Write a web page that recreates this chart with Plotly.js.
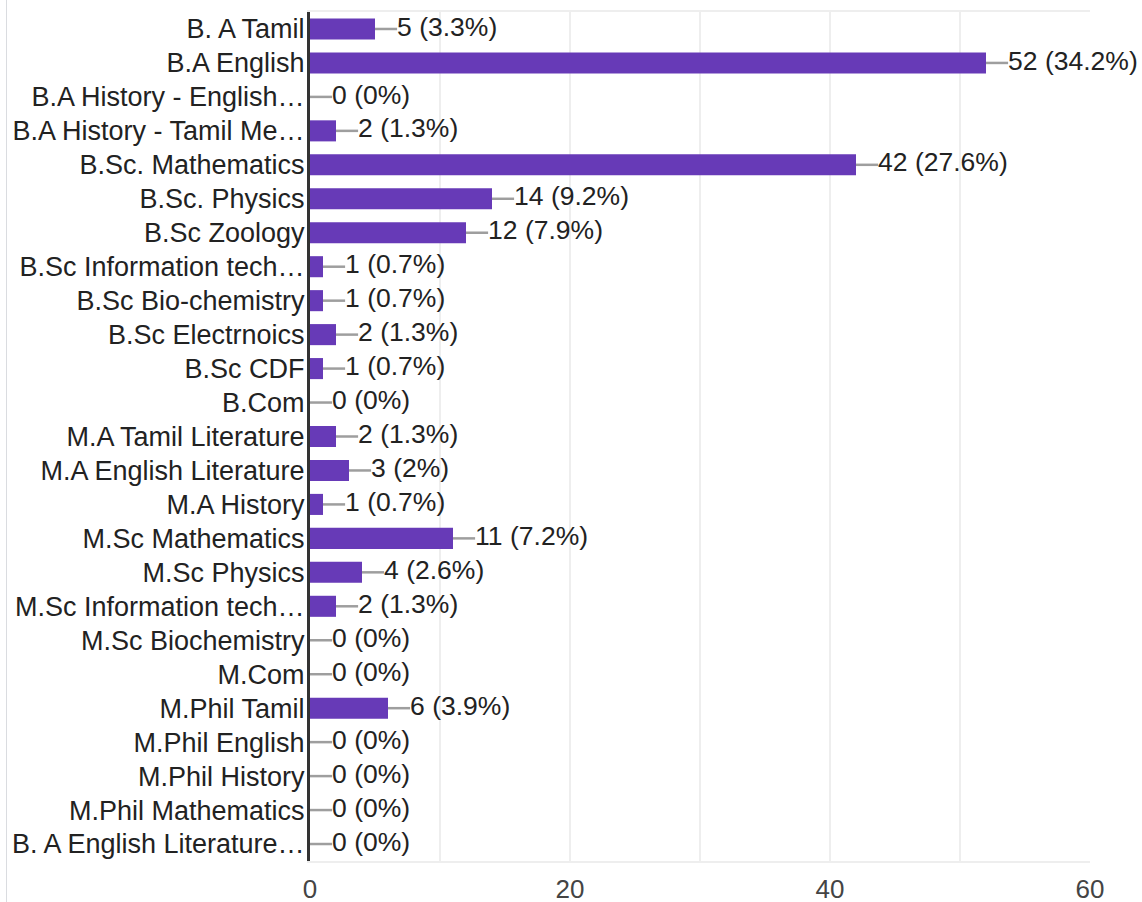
<!DOCTYPE html>
<html>
<head>
<meta charset="utf-8">
<script src="https://cdn.plot.ly/plotly-3.0.1.min.js"></script>
<style>
html,body{margin:0;padding:0;background:#fff;}
#chart{width:1142px;height:902px;}
</style>
</head>
<body>
<div id="chart"></div>
<script>
const categories = [
  "B. A Tamil",
  "B.A English",
  "B.A History - English…",
  "B.A History - Tamil Me…",
  "B.Sc. Mathematics",
  "B.Sc. Physics",
  "B.Sc Zoology",
  "B.Sc Information tech…",
  "B.Sc Bio-chemistry",
  "B.Sc Electrnoics",
  "B.Sc CDF",
  "B.Com",
  "M.A Tamil Literature",
  "M.A English Literature",
  "M.A History",
  "M.Sc Mathematics",
  "M.Sc Physics",
  "M.Sc Information tech…",
  "M.Sc Biochemistry",
  "M.Com",
  "M.Phil Tamil",
  "M.Phil English",
  "M.Phil History",
  "M.Phil Mathematics",
  "B. A English Literature…"
];
const counts = [5, 52, 0, 2, 42, 14, 12, 1, 1, 2, 1, 0, 2, 3, 1, 11, 4, 2, 0, 0, 6, 0, 0, 0, 0];
const percents = ["3.3%", "34.2%", "0%", "1.3%", "27.6%", "9.2%", "7.9%", "0.7%", "0.7%", "1.3%", "0.7%", "0%", "1.3%", "2%", "0.7%", "7.2%", "2.6%", "1.3%", "0%", "0%", "3.9%", "0%", "0%", "0%", "0%"];
const xTickValues = [0, 20, 40, 60];

const xMax = 60;
const connectorLen = 1.7; // in data units (~22px)

const labelText = counts.map((c, i) => c + " (" + percents[i] + ")");

const connX = [], connY = [];
counts.forEach((c, i) => {
  connX.push(c, c + connectorLen, null);
  connY.push(categories[i], categories[i], null);
});

const fontFam = "'Liberation Sans', Arial, sans-serif";

const traces = [
  {
    type: "bar",
    orientation: "h",
    x: counts,
    y: categories,
    marker: {color: "#673ab7"},
    hoverinfo: "skip"
  },
  {
    type: "scatter",
    mode: "lines",
    x: connX,
    y: connY,
    line: {color: "#9e9e9e", width: 2.5},
    connectgaps: false,
    hoverinfo: "skip",
    cliponaxis: false
  },
  {
    type: "scatter",
    mode: "text",
    x: counts.map(c => c + connectorLen),
    y: categories,
    text: labelText,
    textposition: "middle right",
    textfont: {family: fontFam, size: 26.5, color: "#222222"},
    hoverinfo: "skip",
    cliponaxis: false
  }
];

const layout = {
  width: 1142,
  height: 902,
  margin: {l: 310, r: 52, t: 12, b: 41, pad: 0},
  paper_bgcolor: "#ffffff",
  plot_bgcolor: "#ffffff",
  showlegend: false,
  bargap: 0.38,
  font: {family: fontFam, size: 26, color: "#222222"},
  xaxis: {
    range: [0, xMax],
    tickvals: xTickValues,
    ticktext: xTickValues.map(String),
    showgrid: true,
    gridcolor: "#eeeeee",
    gridwidth: 2,
    minor: {dtick: 10, showgrid: true, gridcolor: "#eeeeee", gridwidth: 2},
    zeroline: false,
    showline: true,
    mirror: true,
    linecolor: "#eeeeee",
    linewidth: 2,
    ticks: "outside",
    ticklen: 4,
    tickcolor: "rgba(0,0,0,0)",
    tickfont: {family: fontFam, size: 26, color: "#444444"},
    fixedrange: true
  },
  yaxis: {
    type: "category",
    range: [categories.length - 0.5, -0.5],
    autorange: false,
    showgrid: false,
    zeroline: false,
    showline: true,
    linecolor: "#333333",
    linewidth: 3,
    ticks: "",
    ticklabelstandoff: -3,
    tickfont: {family: fontFam, size: 27, color: "#222222"},
    fixedrange: true
  },
  shapes: [
    {
      type: "line",
      xref: "paper", yref: "paper",
      x0: (6.5 - 310) / 780, x1: (6.5 - 310) / 780,
      y0: -41 / 849, y1: 1 + 12 / 849,
      line: {color: "#dadce0", width: 1}
    }
  ]
};

Plotly.newPlot("chart", traces, layout, {staticPlot: true, displayModeBar: false});
</script>
</body>
</html>
